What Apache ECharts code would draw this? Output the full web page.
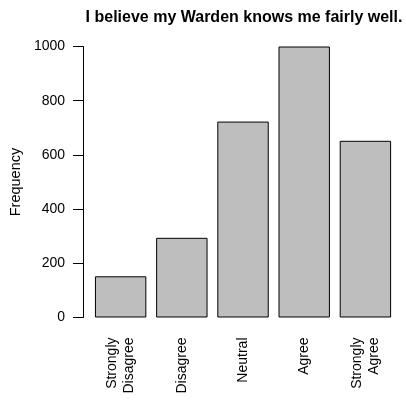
<!DOCTYPE html>
<html>
<head>
<meta charset="utf-8">
<script src="https://cdn.jsdelivr.net/npm/echarts@6/dist/echarts.min.js"></script>
<style>
html,body{margin:0;padding:0;background:#fff;}
#chart{width:406px;height:401px;}
</style>
</head>
<body>
<div id="chart"></div>
<script>
const categories = ["Strongly\nDisagree", "Disagree", "Neutral", "Agree", "Strongly\nAgree"];
const frequencies = [152, 294, 723, 1000, 652];
const yTicks = [0, 200, 400, 600, 800, 1000];
const titleText = "I believe my Warden knows me fairly well.";
const yName = "Frequency";

const chart = echarts.init(document.getElementById('chart'), null, {renderer: 'canvas'});
const font = 'Liberation Sans, Arial, Helvetica, sans-serif';
chart.setOption({
  animation: false,
  backgroundColor: '#ffffff',
  title: {
    text: titleText,
    left: 239,
    textAlign: 'center',
    top: 5,
    textStyle: {fontFamily: font, fontSize: 16, fontWeight: 'bold', color: '#000'}
  },
  grid: {left: 85.7, right: 10, top: 46.5, bottom: 83.5, containLabel: false},
  xAxis: {
    type: 'category',
    data: categories,
    axisLine: {show: false},
    axisTick: {show: false},
    axisLabel: {rotate: 90, margin: 20, fontFamily: font, fontSize: 14, lineHeight: 17, color: '#000', interval: 0}
  },
  yAxis: {
    type: 'value',
    min: yTicks[0],
    max: yTicks[yTicks.length - 1],
    interval: yTicks[1] - yTicks[0],
    offset: 7,
    name: yName,
    nameLocation: 'middle',
    nameRotate: 90,
    nameGap: 54,
    nameTextStyle: {fontFamily: font, fontSize: 14.5, color: '#000'},
    axisLine: {show: true, lineStyle: {color: '#000', width: 1}},
    axisTick: {show: true, length: 10, lineStyle: {color: '#000', width: 1}},
    axisLabel: {margin: 18, fontFamily: font, fontSize: 14, color: '#000', formatter: function (v) { return String(v); }},
    splitLine: {show: false}
  },
  series: [{
    type: 'bar',
    data: frequencies,
    barCategoryGap: '16%',
    itemStyle: {color: '#bebebe', borderColor: '#000', borderWidth: 1}
  }]
});
</script>
</body>
</html>
